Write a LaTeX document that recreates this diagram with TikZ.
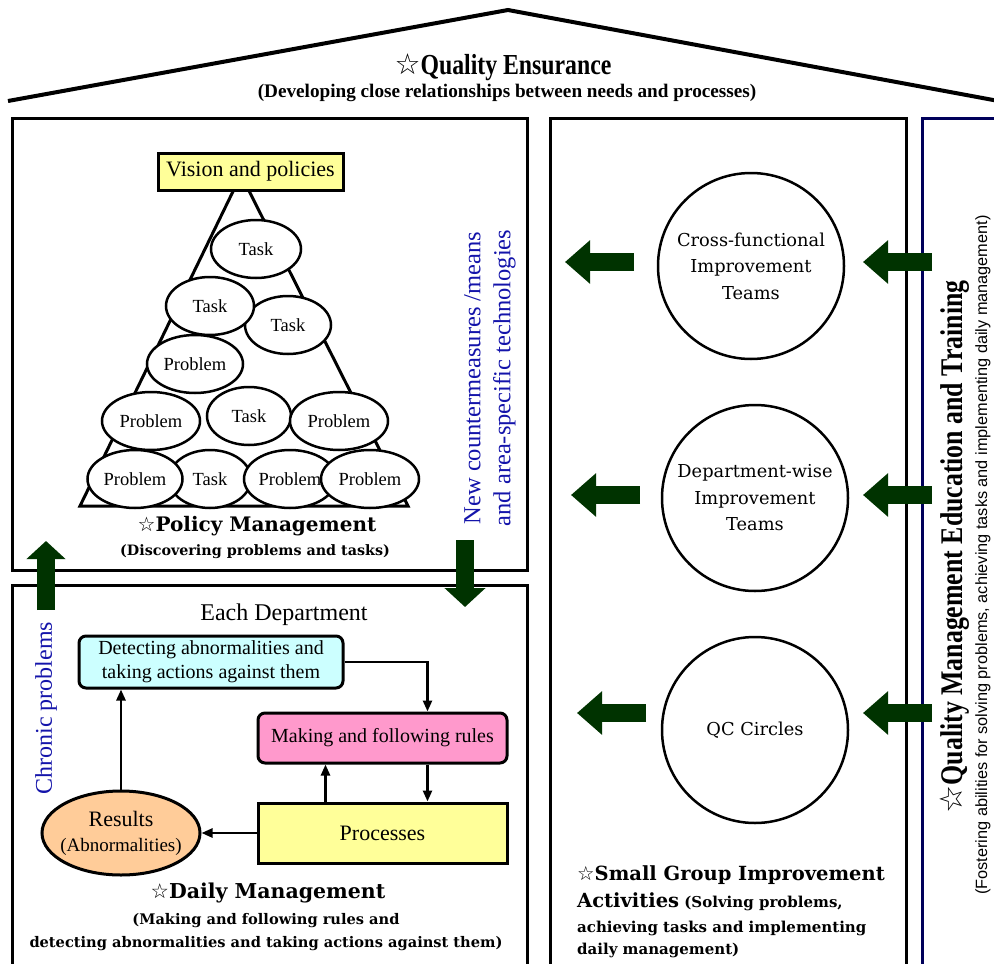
\documentclass[tikz,border=0pt]{standalone}
\usepackage{fontspec}
\setmainfont{Liberation Serif}
\newfontfamily\condserif[FakeStretch=0.82]{Liberation Serif}
\newfontfamily\wideserif{DejaVu Serif}
\newfontfamily\plainsans{Liberation Sans}
\newfontfamily\starfont{DejaVu Sans}
\usetikzlibrary{arrows.meta,shapes.geometric,positioning}

\definecolor{dkgreen}{RGB}{0,51,0}
\definecolor{navyline}{RGB}{0,0,90}
\definecolor{txtblue}{RGB}{20,20,170}
\definecolor{lightyellow}{RGB}{255,255,153}
\definecolor{lightcyan}{RGB}{204,255,255}
\definecolor{lightpink}{RGB}{255,153,204}
\definecolor{lightorange}{RGB}{255,204,153}

\newcommand\fsz[2]{\fontsize{#1}{#2}\selectfont}
\newcommand\wstar{{\starfont\bfseries ☆}}

\tikzset{
  frame/.style={draw, line width=3pt},
  bubble/.style={ellipse, draw, line width=2.5pt, fill=white, inner sep=0pt,
    minimum height=58pt, font=\fsz{18.5}{20}},
  team/.style={circle, draw, line width=2.5pt, minimum size=186pt, inner sep=0pt,
    align=center, font=\wideserif\fsz{17.8}{26.5}},
  fatarrow/.style={draw=dkgreen, line width=18pt, -{Triangle[length=25pt,width=42pt]}},
  flow/.style={line width=2.5pt, -{Triangle[length=11pt,width=9pt]}},
  stepbox/.style={draw, line width=3pt, align=center, font=\fsz{20}{24}},
}

\begin{document}
\begin{tikzpicture}[x=1pt, y=-1pt, line join=miter]
\clip (0,0) rectangle (994,964);

% roof
\draw[line width=4pt] (8,101) -- (508,10) -- (1004,102);
\node[font=\condserif\bfseries\fsz{29}{32}] (qe) at (503,67) {\wstar Quality Ensurance};
\node[font=\bfseries\fsz{19.2}{22}] (qesub) at (507,93)
  {(Developing close relationships between needs and processes)};

% frames
\draw[frame] (12,118) rectangle (527,570);
\draw[frame] (12,585) rectangle (527,990);
\draw[frame] (550,118) rectangle (906,990);
\draw[frame, draw=navyline] (922,118) rectangle (1010,990);

% policy management pyramid
\draw[line width=3pt] (241,175) -- (80,506) -- (408,506) -- cycle;
\node[stepbox, fill=lightyellow, minimum width=185pt, minimum height=37pt, font=\fsz{22}{26}]
  (vision) at (250.5,171.5) {Vision and policies};

\node[bubble, minimum width=90pt] (t1) at (256,249) {Task};
\node[bubble, minimum width=86pt] (t3) at (288,325) {Task};
\node[bubble, minimum width=88pt] (t2) at (210,306) {Task};
\node[bubble, minimum width=96pt] (p1) at (195,364) {Problem};
\node[bubble, minimum width=98pt] (p2) at (151,421) {Problem};
\node[bubble, minimum width=84pt] (t4) at (249,416) {Task};
\node[bubble, minimum width=98pt] (p3) at (339,421) {Problem};
\node[bubble, minimum width=82pt] (t5) at (210,479) {Task};
\node[bubble, minimum width=95pt] (p4) at (135,479) {Problem};
\node[bubble, minimum width=92pt] (p5) at (290,479) {Problem};
\node[bubble, minimum width=98pt] (p6) at (370,479) {Problem};

\node[font=\wideserif\bfseries\fsz{20}{24}] (pm) at (257,526) {\wstar Policy Management};
\node[font=\wideserif\bfseries\fsz{14.3}{17}] (pmsub) at (255,552) {(Discovering problems and tasks)};

\node[rotate=90, align=center, text=txtblue, font=\fsz{24.5}{30}] (newtech) at (490,378)
  {New countermeasures /means\\and area-specific technologies};

% daily management
\node[font=\fsz{24}{28}] (dept) at (284,615) {Each Department};
\node[stepbox, rounded corners=7pt, fill=lightcyan, minimum width=264pt, minimum height=52pt]
  (detect) at (211,662) {Detecting abnormalities and\\taking actions against them};
\node[stepbox, rounded corners=7pt, fill=lightpink, minimum width=249pt, minimum height=50pt]
  (rules) at (382.5,738) {Making and following rules};
\node[stepbox, fill=lightyellow, minimum width=249pt, minimum height=60pt, font=\fsz{22}{26}]
  (procs) at (382.5,833) {Processes};
\node[ellipse, draw, line width=3pt, fill=lightorange, minimum width=158pt, minimum height=84pt,
  inner sep=-7pt, align=center, font=\fsz{22}{25}] (results) at (121,833)
  {Results\\{\fsz{19}{22}(Abnormalities)}};

\draw[flow] (detect.east) -| ([xshift=45pt]rules.north);
\draw[flow] ([xshift=45pt]rules.south) -- ([xshift=45pt]procs.north);
\draw[flow] ([xshift=-57pt]procs.north) -- ([xshift=-57pt]rules.south);
\draw[flow] (procs.west) -- (results.east);
\draw[flow] (results.north) -- (results.north |- detect.south);

\node[rotate=90, text=txtblue, font=\fsz{24}{28}] (chronic) at (46,708) {Chronic problems};

\node[font=\wideserif\bfseries\fsz{20.5}{24}] (dm) at (268,893) {\wstar Daily Management};
\node[align=center, font=\wideserif\bfseries\fsz{14.6}{23}] (dmsub) at (266,932)
  {(Making and following rules and\\detecting abnormalities and taking actions against them)};

% policy <-> daily arrows
\coordinate (downtail) at (465,540);
\coordinate (downtip) at (465,607);
\coordinate (uptail) at (46,610);
\coordinate (uptip) at (46,541);
\draw[fatarrow, -{Triangle[length=19pt,width=40pt]}] (downtail) -- (downtip);
\draw[fatarrow, -{Triangle[length=18pt,width=38pt]}] (uptail) -- (uptip);

% small group improvement activities
\node[team] (cft) at (751,266) {Cross-functional\\Improvement\\Teams};
\node[team] (dwt) at (755,498) {Department-wise\\Improvement\\Teams};
\node[team] (qcc) at (755,730) {QC Circles};

\foreach \name/\y/\l in {cft/262/565, dwt/495/571, qcc/713/577}{
  \coordinate (\name-outtail) at (\l+69,\y);
  \coordinate (\name-outtip) at (\l,\y);
  \coordinate (\name-intail) at (932,\y);
  \coordinate (\name-intip) at (863,\y);
  \draw[fatarrow] (\name-outtail) -- (\name-outtip);
  \draw[fatarrow] (\name-intail) -- (\name-intip);
}

\node[anchor=north west, align=left, inner sep=0pt, font=\wideserif\bfseries\fsz{15}{25}] (sg) at (577,865)
  {{\fsz{19.5}{24}\wstar Small Group Improvement}\\[2pt]
   {\fsz{19.5}{24}Activities} (Solving problems,\\achieving tasks and implementing\\[-3pt]daily management)};

% quality management education and training
\node[rotate=90, font=\condserif\bfseries\fsz{31.5}{34}] (qmet) at (955,547)
  {\wstar Quality Management Education and Training};
\node[rotate=90, font=\plainsans\fsz{16.3}{20}] (qmetsub) at (983,555)
  {(Fostering abilities for solving problems, achieving tasks and implementing daily management)};
\end{tikzpicture}
\end{document}
